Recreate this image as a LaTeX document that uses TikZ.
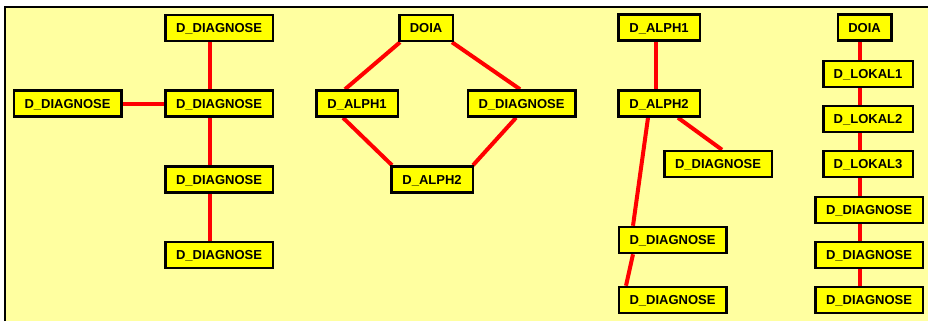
\documentclass[tikz,border=0pt]{standalone}
\usepackage{fontspec}
\setmainfont{Liberation Sans}
\usetikzlibrary{calc}
\definecolor{panel}{HTML}{FFFFA0}
\definecolor{boxfill}{HTML}{FFFF00}
\definecolor{link}{HTML}{FF0000}
\pgfdeclarelayer{back}
\pgfdeclarelayer{links}
\pgfsetlayers{back,links,main}
\tikzset{
  tbl/.style={draw=black, line width=2.5pt, fill=boxfill, minimum width=#1,
    minimum height=26pt, inner sep=0pt, text height=9.3pt, text depth=0pt,
    font=\bfseries\fontsize{13}{15}\selectfont},
  tbl/.default=107.5pt,
  rel/.style={draw=link, line width=4pt}
}
\begin{document}
\begin{tikzpicture}[x=1pt, y=-1pt]
\useasboundingbox (0,0) rectangle (928,321);
\begin{pgfonlayer}{back}
  \fill[white] (0,0) rectangle (928,321);
  \fill[panel] (5,7) rectangle (928,321);
  \draw[line width=2pt] (5,321) -- (5,7) -- (928,7);
\end{pgfonlayer}

% first group
\node[tbl] (a1) at (219,28) {D\_DIAGNOSE};
\node[tbl] (a2) at (67.5,103.5) {D\_DIAGNOSE};
\node[tbl] (a3) at (219,103.5) {D\_DIAGNOSE};
\node[tbl] (a4) at (219,179.5) {D\_DIAGNOSE};
\node[tbl] (a5) at (219,255) {D\_DIAGNOSE};

% second group
\node[tbl=53.5pt] (b1) at (426,28) {DOIA};
\node[tbl=81.5pt] (b2) at (357,103.5) {D\_ALPH1};
\node[tbl] (b3) at (521.5,103.5) {D\_DIAGNOSE};
\node[tbl=81.5pt] (b4) at (432,179.5) {D\_ALPH2};

% third group
\node[tbl=81.5pt] (c1) at (659,27.5) {D\_ALPH1};
\node[tbl=81.5pt] (c2) at (659,103.5) {D\_ALPH2};
\node[tbl] (c3) at (718,164) {D\_DIAGNOSE};
\node[tbl] (c4) at (672.5,240) {D\_DIAGNOSE};
\node[tbl] (c5) at (672.5,300) {D\_DIAGNOSE};

% fourth group
\node[tbl=53.5pt] (d1) at (864.5,27.5) {DOIA};
\node[tbl=89.5pt] (d2) at (868,74) {D\_LOKAL1};
\node[tbl=89.5pt] (d3) at (868,119) {D\_LOKAL2};
\node[tbl=89.5pt] (d4) at (868,164) {D\_LOKAL3};
\node[tbl] (d5) at (869,210) {D\_DIAGNOSE};
\node[tbl] (d6) at (869,255) {D\_DIAGNOSE};
\node[tbl] (d7) at (869,300) {D\_DIAGNOSE};

\begin{pgfonlayer}{links}
  \draw[rel] ($(a1.south)+(-9,0)$) -- ($(a3.north)+(-9,0)$);
  \draw[rel] (a2.east) -- (a3.west);
  \draw[rel] ($(a3.south)+(-9,0)$) -- ($(a4.north)+(-9,0)$);
  \draw[rel] ($(a4.south)+(-9,0)$) -- ($(a5.north)+(-9,0)$);

  \draw[rel] ($(b1.south)+(-26,0)$) -- ($(b2.north)+(-12,0)$);
  \draw[rel] ($(b1.south)+(26,0)$) -- ($(b3.north)+(-1.5,0)$);
  \draw[rel] ($(b2.south)+(-14,0)$) -- ($(b4.north)+(-40,0)$);
  \draw[rel] ($(b3.south)+(-5.5,0)$) -- ($(b4.north)+(41,0)$);

  \draw[rel] ($(c1.south)+(-3,0)$) -- ($(c2.north)+(-3,0)$);
  \draw[rel] ($(c2.south)+(19,0)$) -- ($(c3.north)+(4,0)$);
  \draw[rel] ($(c2.south)+(-11,0)$) -- ($(c4.north)+(-39.5,0)$);
  \draw[rel] ($(c4.south)+(-39.5,0)$) -- ($(c5.north)+(-46.5,0)$);

  \draw[rel] ($(d1.south)+(-4.5,0)$) -- ($(d2.north)+(-8,0)$);
  \draw[rel] ($(d2.south)+(-8,0)$) -- ($(d3.north)+(-8,0)$);
  \draw[rel] ($(d3.south)+(-8,0)$) -- ($(d4.north)+(-8,0)$);
  \draw[rel] ($(d4.south)+(-8,0)$) -- ($(d5.north)+(-9,0)$);
  \draw[rel] ($(d5.south)+(-9,0)$) -- ($(d6.north)+(-9,0)$);
  \draw[rel] ($(d6.south)+(-9,0)$) -- ($(d7.north)+(-9,0)$);
\end{pgfonlayer}
\end{tikzpicture}
\end{document}
